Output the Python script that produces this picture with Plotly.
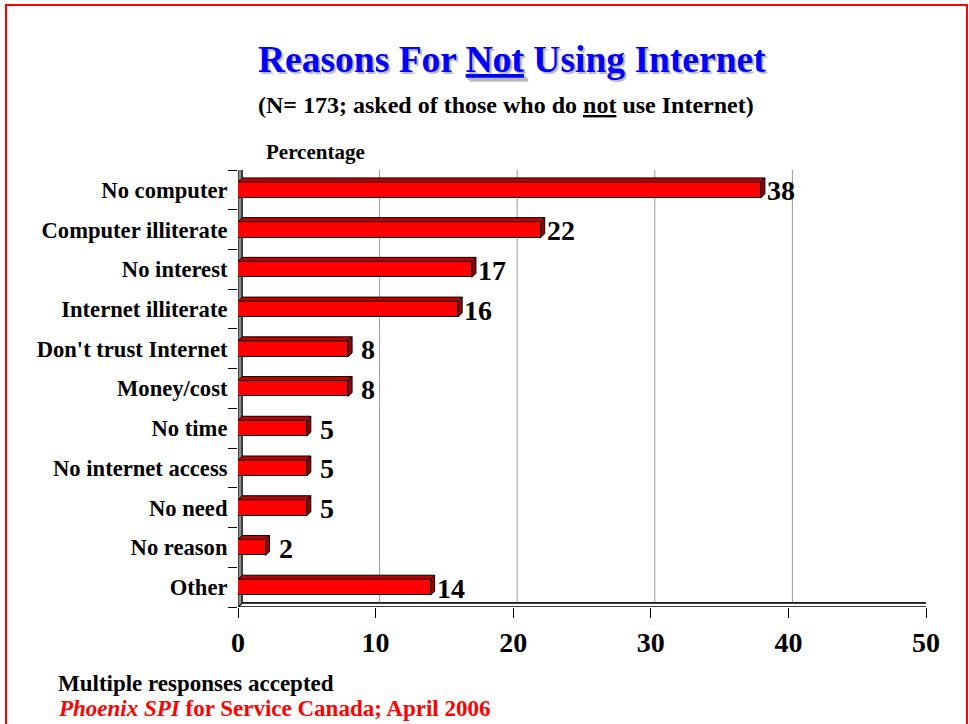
import plotly.graph_objects as go

# Survey data
categories = ["No computer", "Computer illiterate", "No interest", "Internet illiterate",
              "Don't trust Internet", "Money/cost", "No time", "No internet access",
              "No need", "No reason", "Other"]
percentages = [38, 22, 17, 16, 8, 8, 5, 5, 5, 2, 14]
x_ticks = [0, 10, 20, 30, 40, 50]

W, H = 969, 724
ML, MR, MT, MB = 238, 43, 170, 117
PW, PH = W - ML - MR, H - MT - MB
X_MAX = 50
N = len(categories)
Y_LO, Y_HI = -0.5, N - 0.5

FONT = "Liberation Serif, Times New Roman, serif"

# pixel -> data unit conversions for the pseudo-3D depth
ux = X_MAX / PW
uy = (Y_HI - Y_LO) / PH
DEPTH_PX = 4
dx, dy = DEPTH_PX * ux, DEPTH_PX * uy
BAR_W = 0.40


def px_x(p):
    return (p - ML) / PW


def px_y(p):
    return (H - MB - p) / PH


ypos = list(range(N))

fig = go.Figure()
fig.add_trace(go.Bar(
    x=percentages, y=ypos, orientation="h", width=BAR_W,
    marker=dict(color="#ff0000", line=dict(color="black", width=1)),
    hoverinfo="skip", showlegend=False,
))
# invisible trace on the second y-axis so its boundary ticks render
fig.add_trace(go.Scatter(x=[None], y=[None], yaxis="y2", showlegend=False))

shapes = []
# back wall frame
shapes.append(dict(type="rect", xref="x", yref="y", layer="below",
                   x0=dx, x1=X_MAX + dx, y0=Y_LO - dy, y1=Y_HI - dy,
                   line=dict(color="#404040", width=1.5), fillcolor="white"))
# gridlines on the back wall
for v in x_ticks[1:-1]:
    shapes.append(dict(type="line", xref="x", yref="y", layer="below",
                       x0=v + dx, x1=v + dx, y0=Y_LO - dy, y1=Y_HI - dy,
                       line=dict(color="#9a9a9a", width=1)))
# floor
shapes.append(dict(type="path", xref="x", yref="y", layer="below",
                   path=f"M 0,{Y_HI} L {X_MAX},{Y_HI} L {X_MAX + dx},{Y_HI - dy} L {dx},{Y_HI - dy} Z",
                   fillcolor="white", line=dict(color="black", width=1.5)))
# left wall
shapes.append(dict(type="path", xref="x", yref="y", layer="below",
                   path=f"M 0,{Y_LO} L {dx},{Y_LO - dy} L {dx},{Y_HI - dy} L 0,{Y_HI} Z",
                   fillcolor="#8c8c8c", line=dict(color="black", width=1)))

# top and side faces of each bar
for c, v in zip(ypos, percentages):
    top = c - BAR_W / 2
    bot = c + BAR_W / 2
    shapes.append(dict(type="path", xref="x", yref="y", layer="above",
                       path=f"M 0,{top} L {dx},{top - dy} L {v + dx},{top - dy} L {v},{top} Z",
                       fillcolor="#c00000", line=dict(color="black", width=1)))
    shapes.append(dict(type="path", xref="x", yref="y", layer="above",
                       path=f"M {v},{top} L {v + dx},{top - dy} L {v + dx},{bot - dy} L {v},{bot} Z",
                       fillcolor="#990000", line=dict(color="black", width=1)))

# red page border
shapes.append(dict(type="rect", xref="paper", yref="paper",
                   x0=px_x(6), x1=px_x(967), y0=px_y(740), y1=px_y(5),
                   line=dict(color="#ff0000", width=2), fillcolor="rgba(0,0,0,0)"))

annotations = []
# value labels (single digits padded like a right-aligned two-character field)
for c, v in zip(ypos, percentages):
    label = str(v)
    annotations.append(dict(
        x=v + dx, y=c, xref="x", yref="y", xanchor="left", yanchor="middle",
        text=label, showarrow=False, yshift=-1, xshift=0 if len(label) > 1 else 7,
        font=dict(family=FONT, size=28, color="black", weight="bold")))

title_text = "Reasons For <u>Not</u> Using Internet"
annotations.append(dict(x=px_x(512), y=px_y(60), xref="paper", yref="paper",
                        text=title_text, showarrow=False, xanchor="center", yanchor="middle",
                        font=dict(family=FONT, size=37.5, color="#0000ff", weight="bold",
                                  shadow="2px 2px 1px #b8b8b8")))
annotations.append(dict(x=px_x(506), y=px_y(105), xref="paper", yref="paper",
                        text="(N= 173; asked of those who do <u>not</u> use Internet)",
                        showarrow=False, xanchor="center", yanchor="middle",
                        font=dict(family=FONT, size=24, color="black", weight="bold")))
annotations.append(dict(x=px_x(264), y=px_y(152), xref="paper", yref="paper",
                        text="Percentage", showarrow=False, xanchor="left", yanchor="middle",
                        font=dict(family=FONT, size=21, color="black", weight="bold")))
annotations.append(dict(x=px_x(56), y=px_y(683), xref="paper", yref="paper",
                        text="Multiple responses accepted", showarrow=False,
                        xanchor="left", yanchor="middle",
                        font=dict(family=FONT, size=23, color="black", weight="bold")))
annotations.append(dict(x=px_x(56), y=px_y(708), xref="paper", yref="paper",
                        text="<i>Phoenix SPI</i> for Service Canada; April 2006", showarrow=False,
                        xanchor="left", yanchor="middle",
                        font=dict(family=FONT, size=23, color="#ff0000", weight="bold")))

fig.update_layout(
    width=W, height=H,
    margin=dict(l=ML, r=MR, t=MT, b=MB, pad=0),
    paper_bgcolor="white", plot_bgcolor="rgba(0,0,0,0)",
    bargap=0,
    xaxis=dict(range=[0, X_MAX], tickvals=x_ticks, ticks="outside", ticklen=10,
               tickcolor="black", tickwidth=1, showgrid=False, zeroline=False,
               showline=False, ticklabelstandoff=0,
               tickfont=dict(family=FONT, size=28, color="black", weight="bold")),
    yaxis=dict(range=[Y_HI, Y_LO], tickvals=ypos, ticktext=categories,
               ticks="outside", ticklen=5, tickcolor="rgba(0,0,0,0)",
               showgrid=False, zeroline=False, showline=False,
               tickfont=dict(family=FONT, size=22.6, color="black", weight="bold")),
    yaxis2=dict(range=[Y_HI, Y_LO], overlaying="y", side="left",
                tickvals=[i - 0.5 for i in range(N + 1)], ticks="outside", ticklen=9,
                tickcolor="black", showticklabels=False, showgrid=False,
                zeroline=False, showline=False),
    shapes=shapes, annotations=annotations,
)

fig.write_html("out.html")
